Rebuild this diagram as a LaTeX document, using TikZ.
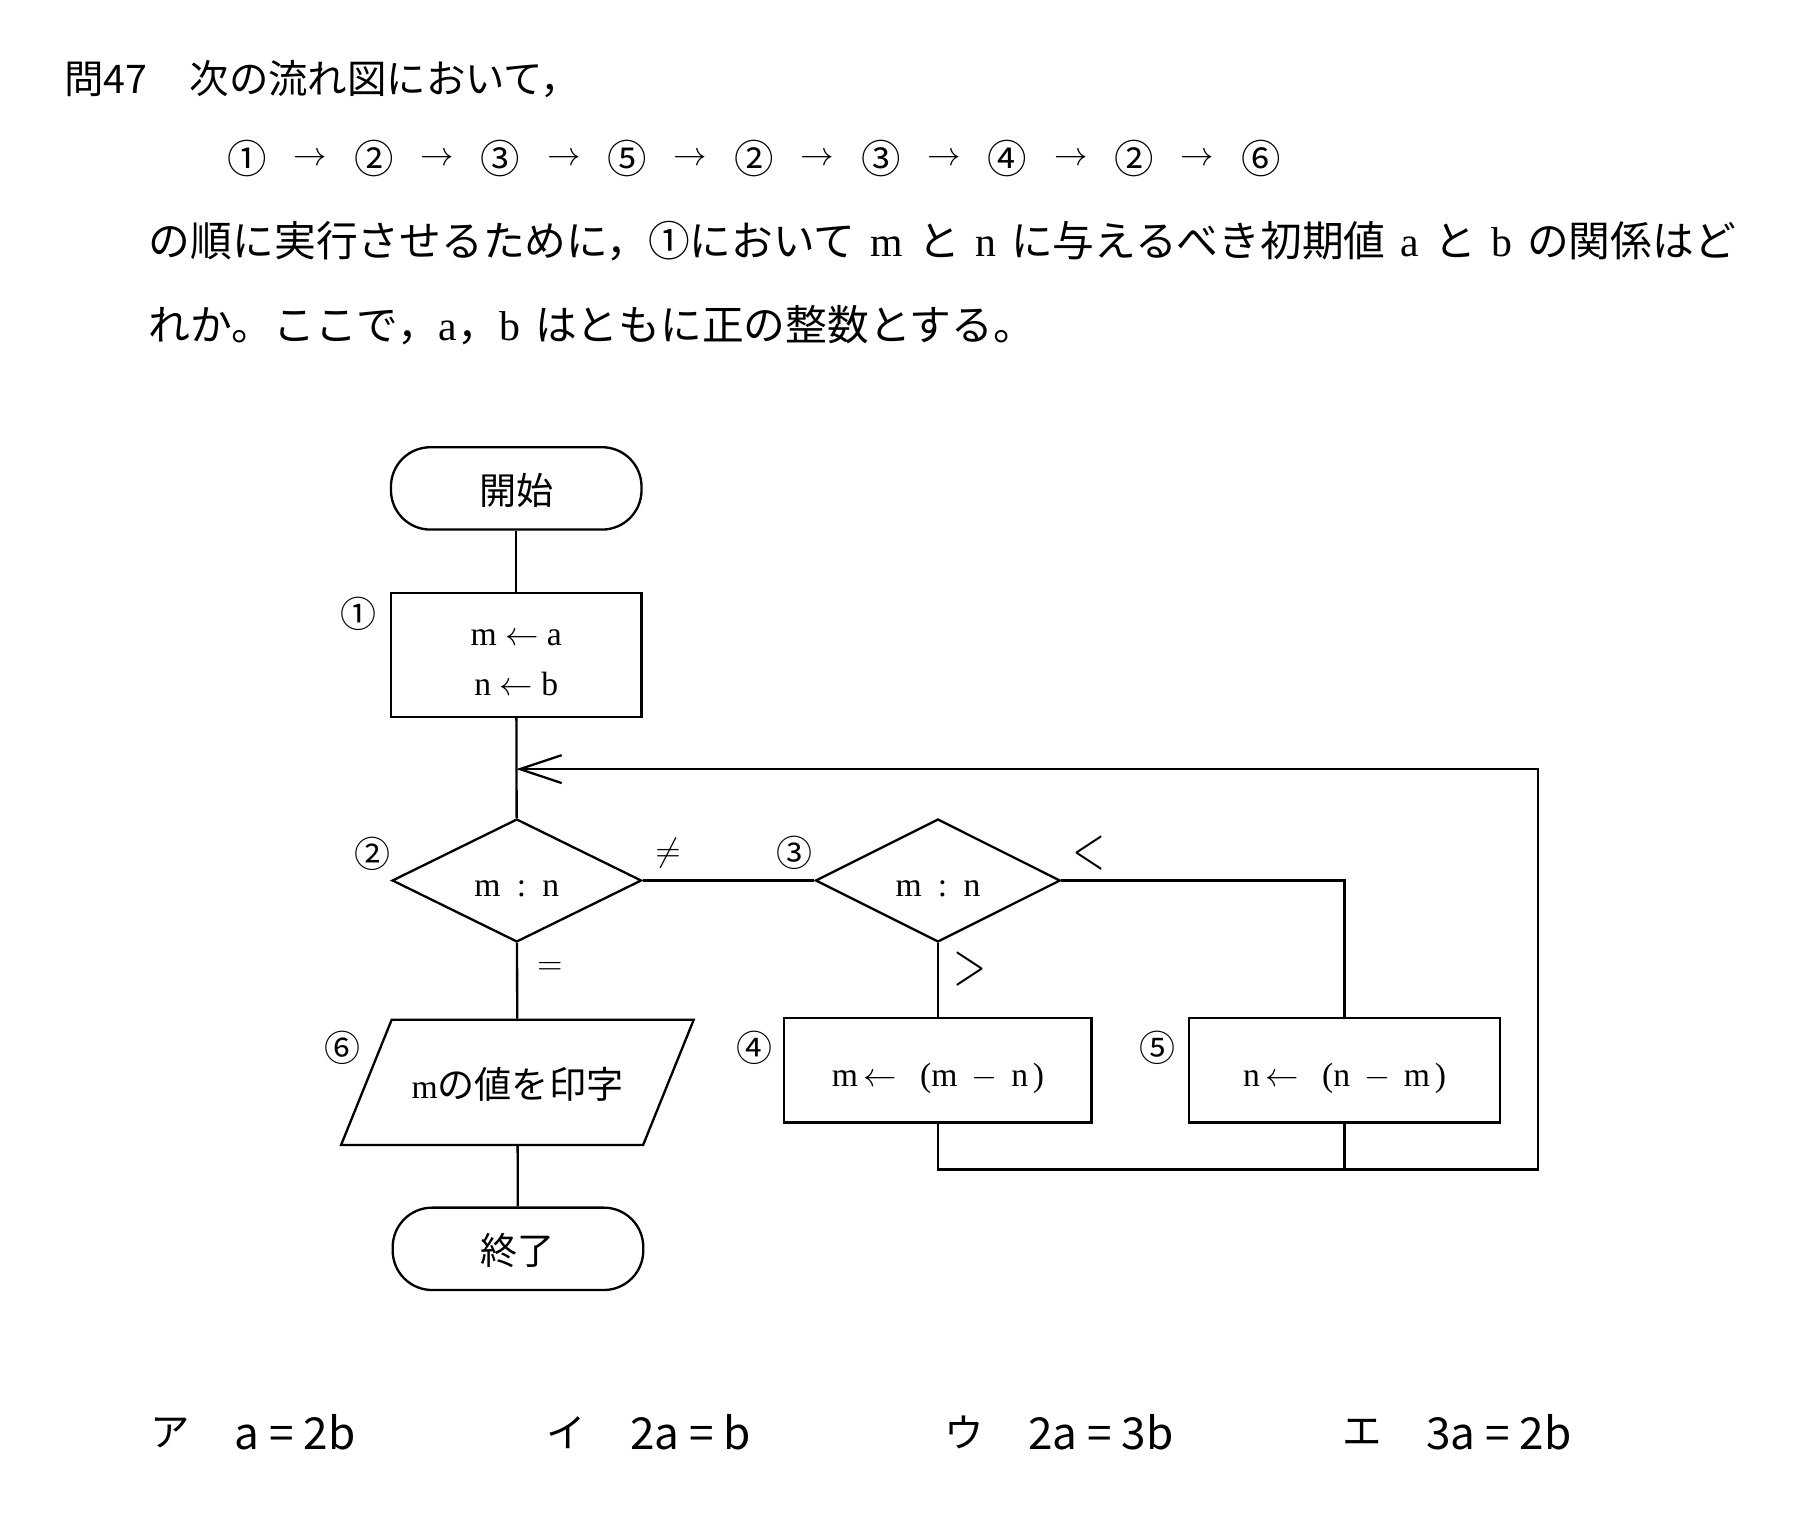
\documentclass[tikz,border=0pt]{standalone}
\usepackage{amsmath}
\usepackage{amssymb}
\usepackage{fontspec}
\usepackage{tikz}
\usetikzlibrary{shapes.geometric,arrows.meta}
\setmainfont{Liberation Serif}
\newfontfamily\cjk{Noto Sans CJK JP}
\newcommand{\linew}{1pt}
\newcommand{\flowfont}{\fontsize{14.5}{21.5}\selectfont}
\newcommand{\jfont}{\fontsize{16}{19}\selectfont\cjk}
\newcommand{\bodyfont}{\fontsize{18}{22}\selectfont\spaceskip=6.5pt}
\newcommand{\headfont}{\fontsize{17}{20}\selectfont\cjk}
\newcommand{\tallsign}[1]{\scalebox{1.3}[1.85]{$#1$}}

\begin{document}
\begin{tikzpicture}[x=0.5pt, y=-0.5pt]
    %\draw[help lines] (0,0) grid (1568,1327);
    \useasboundingbox (0,0) rectangle (1568,1327);
    \tikzset{
        flow/.style = {draw, line width=\linew, font=\flowfont, inner sep=0pt},
        term/.style = {flow, rectangle, rounded corners=17pt, minimum width=108pt, minimum height=35.5pt,
                       text height=13.5pt, text depth=0pt},
        proc/.style = {flow, rectangle, minimum width=108pt, minimum height=45pt,
                       text height=17.5pt, text depth=3.6pt},
        cond/.style = {flow, diamond, aspect=2, minimum width=107.5pt, minimum height=53pt,
                       text height=14pt, text depth=0pt},
        outp/.style = {flow, trapezium, trapezium left angle=68, trapezium right angle=112,
                       trapezium stretches body, minimum width=152pt, inner xsep=0pt, inner ysep=19pt,
                       text height=15pt, text depth=1pt},
        wire/.style = {line width=\linew},
        textline/.style = {font=\bodyfont, inner sep=0pt, anchor=west},
        numlabel/.style = {font=\fontsize{15.5}{18}\selectfont\cjk, inner sep=0pt},
        relsign/.style = {font=\flowfont, inner sep=0pt}
    }

    % question
    \node[textline, font=\headfont] (qno) at (55,68) {問47};
    \node[textline, font=\headfont] (qhead) at (163,68) {次の流れ図において，};
    \foreach \s [count=\i from 0] in {①,②,③,⑤,②,③,④,②,⑥} {
        \node[font=\headfont, inner sep=0pt] (seq\i) at (213+109.25*\i,137) {\s};
    }
    \foreach \i in {0,...,7} {
        \node[font=\fontsize{15}{18}\selectfont, inner sep=0pt] (arr\i) at (267.6+109.25*\i,137) {$\rightarrow$};
    }
    \node[textline] (qline1) at (128,208)
        {{\cjk の順に実行させるために，①において} m {\cjk と} n {\cjk に与えるべき初期値} a {\cjk と} b {\cjk の関係はど}};
    \node[textline] (qline2) at (128,280)
        {{\cjk れか。ここで，}a{\cjk ，}b {\cjk はともに正の整数とする。}};

    % flowchart
    \node[term] (start) at (445,421) {\jfont 開始};
    \node[proc, minimum height=53.5pt, align=center, text height={}, text depth={}] (init) at (445,564.5)
        {\rule{0pt}{13.7pt}m $\leftarrow$ a\\ n $\leftarrow$ b};
    \coordinate (join) at (445,663);
    \node[cond] (test1) at (445.5,759) {m\hspace{7pt}:\hspace{7pt}n};
    \node[cond, minimum width=105.5pt] (test2) at (808.5,759) {m\hspace{7pt}:\hspace{7pt}n};
    \node[outp] (print) at (446,933) {m{\jfont の値を印字}};
    \node[proc, minimum width=132.5pt] (subm) at (808.5,922.5)
        {m\,$\leftarrow$\hspace{10pt}(m\hspace{6pt}$-$\hspace{6pt}n\hspace{2pt})};
    \node[proc, minimum width=134pt] (subn) at (1159,922.5)
        {n\,$\leftarrow$\hspace{10pt}(n\hspace{6pt}$-$\hspace{6pt}m\hspace{2pt})};
    \node[term] (stop) at (446.5,1076.5) {\jfont 終了};
    \coordinate (back) at (1326,1008);

    \draw[wire] (start) -- (init);
    \draw[wire] (init) -- (test1);
    \draw[wire] (test1) -- (test2);
    \draw[wire] (test2) -- (subm);
    \draw[wire] (test2.east) -| (subn);
    \draw[wire] (test1) -- (print);
    \draw[wire] (print) -- (stop);
    \draw[wire, -{Straight Barb[length=18pt, width=12pt]}] (subm.south) |- (back) |- (join);
    \draw[wire] (subn.south) -- (subn.south |- back);

    \foreach \s/\x/\y [count=\i] in {①/309/529, ②/321/736, ③/685/735, ④/650/903, ⑤/998/903, ⑥/295/903} {
        \node[numlabel] (step\i) at (\x,\y) {\s};
    }
    \node[relsign] (neq) at (576,735) {$\neq$};
    \node[relsign] (less) at (939,735) {\tallsign{<}};
    \node[relsign] (more) at (836,835) {\tallsign{>}};
    \node[relsign] (equal) at (474,835) {$=$};

    % choices
    \foreach \k/\x/\e [count=\i] in {ア/147/a = 2b, イ/488/2a = b, ウ/831/2a = 3b, エ/1174/3a = 2b} {
        \node[font=\headfont, inner sep=0pt] (key\i) at (\x,1235) {\k};
        \node[textline, font=\fontsize{19}{22}\selectfont\cjk] (ans\i) at (\x+55,1235) {\e};
    }
\end{tikzpicture}
\end{document}
